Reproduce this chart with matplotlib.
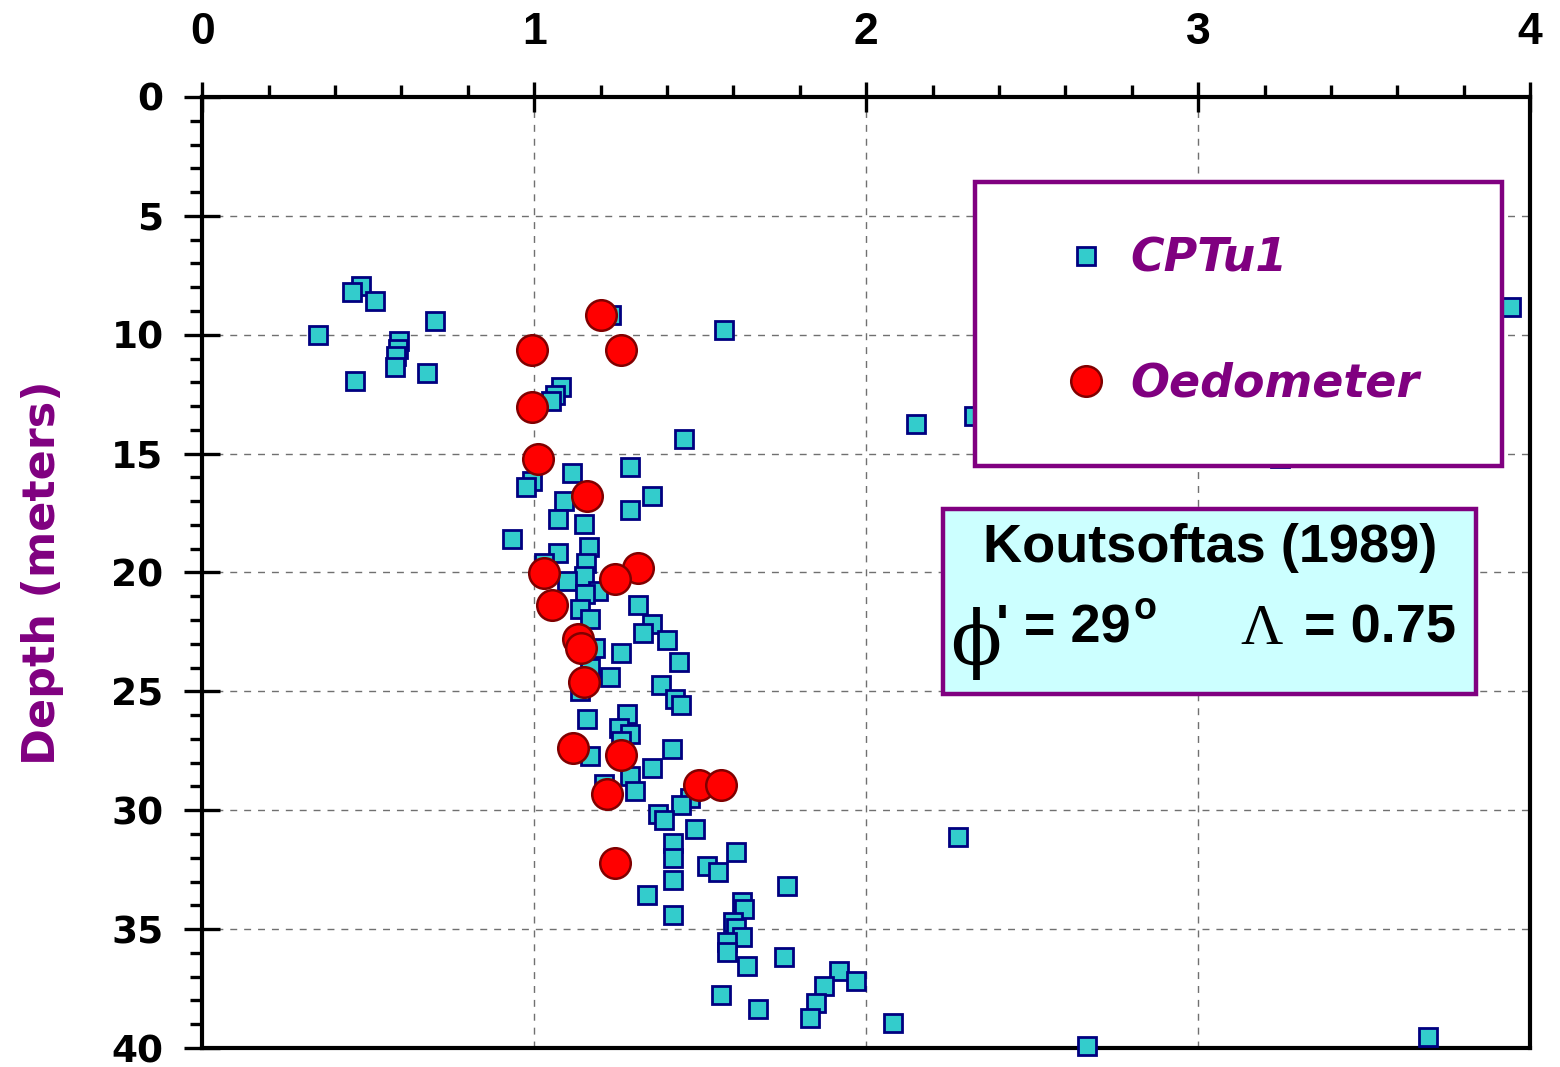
"""
Depth profile: CPTu1 estimates against oedometer results
"""

import matplotlib

matplotlib.use("Agg")
import matplotlib.pyplot as plt
from matplotlib.lines import Line2D
from matplotlib.patches import Rectangle
from matplotlib.ticker import MultipleLocator

PURPLE = "#800080"

# CPTu1 profile (value, depth in m)
cpt_value = [
    0.477, 0.452, 0.521, 0.702, 0.348, 0.591, 0.589, 0.584, 0.581, 0.676,
    0.461, 1.231, 1.572, 3.942, 1.081, 1.063, 1.049, 2.149, 2.326, 1.452,
    3.246, 1.288, 1.114, 0.994, 0.976, 1.356, 1.089, 1.288, 1.072, 1.149,
    0.934, 1.166, 1.072, 1.029, 1.156, 1.149, 1.099, 1.192, 1.152, 1.312,
    1.139, 1.167, 1.356, 1.329, 1.399, 1.184, 1.261, 1.435, 1.169, 1.227,
    1.383, 1.139, 1.425, 1.441, 1.279, 1.159, 1.254, 1.287, 1.262, 1.416,
    1.167, 1.356, 1.289, 1.209, 1.305, 1.470, 1.443, 1.374, 1.392, 1.485,
    2.276, 1.417, 1.607, 1.417, 1.520, 1.555, 1.417, 1.762, 1.339, 1.625,
    1.632, 1.417, 1.600, 1.608, 1.625, 1.580, 1.580, 1.753, 1.640, 1.917,
    1.968, 1.873, 1.563, 1.848, 1.674, 1.830, 2.080, 3.693, 2.666,
]
cpt_depth = [
    7.94, 8.22, 8.58, 9.42, 10.03, 10.28, 10.60, 10.91, 11.36, 11.60,
    11.96, 9.17, 9.79, 8.82, 12.20, 12.55, 12.80, 13.74, 13.40, 14.37,
    15.17, 15.57, 15.81, 16.16, 16.41, 16.79, 17.00, 17.38, 17.74, 17.98,
    18.58, 18.92, 19.17, 19.59, 19.62, 20.13, 20.37, 20.78, 20.92, 21.37,
    21.55, 21.95, 22.18, 22.56, 22.82, 23.19, 23.40, 23.77, 24.00, 24.38,
    24.73, 24.99, 25.31, 25.59, 25.97, 26.18, 26.53, 26.81, 27.08, 27.41,
    27.72, 28.21, 28.56, 28.91, 29.21, 29.47, 29.79, 30.17, 30.42, 30.77,
    31.13, 31.36, 31.75, 31.99, 32.34, 32.59, 32.93, 33.18, 33.56, 33.85,
    34.16, 34.41, 34.72, 34.97, 35.35, 35.56, 35.95, 36.19, 36.54, 36.75,
    37.17, 37.38, 37.77, 38.11, 38.36, 38.74, 38.96, 39.54, 39.92,
]

# oedometer tests
oed_value = [
    1.202, 0.994, 1.262, 0.994, 1.012, 1.158, 1.029, 1.314, 1.244, 1.054,
    1.132, 1.141, 1.149, 1.116, 1.261, 1.495, 1.563, 1.219, 1.244,
]
oed_depth = [
    9.17, 10.63, 10.63, 13.04, 15.21, 16.78, 20.04, 19.80, 20.26, 21.37,
    22.78, 23.19, 24.59, 27.37, 27.69, 28.95, 28.95, 29.33, 32.23,
]

x_ticks = [0, 1, 2, 3, 4]
y_ticks = [0, 5, 10, 15, 20, 25, 30, 35, 40]

square_style = dict(marker="s", ms=13.5, mfc="#33CCCC", mec="#000080", mew=2.0, ls="none")
circle_style = dict(marker="o", ms=22, mfc="#FF0000", mec="#800000", mew=1.8, ls="none")

fig = plt.figure(figsize=(15.6, 10.67), dpi=100)
ax = fig.add_axes([0.1297, 0.0178, 0.8511, 0.8913])

ax.plot(cpt_value, cpt_depth, zorder=3, clip_on=False, **square_style)
ax.plot(oed_value, oed_depth, zorder=4, clip_on=False, **circle_style)

ax.set_xlim(0, 4)
ax.set_ylim(40, 0)
ax.set_xticks(x_ticks)
ax.set_yticks(y_ticks)
ax.xaxis.set_minor_locator(MultipleLocator(0.2))
ax.yaxis.set_minor_locator(MultipleLocator(1))
ax.xaxis.tick_top()

for spine in ax.spines.values():
    spine.set_linewidth(3)

ax.tick_params(axis="x", which="major", direction="inout", length=22, width=2.4, pad=21,
               top=True, bottom=False)
ax.tick_params(axis="x", which="minor", direction="out", length=9, width=2.4,
               top=True, bottom=False)
ax.tick_params(axis="y", which="major", direction="inout", length=26, width=2.4, pad=15,
               left=True, right=False)
ax.tick_params(axis="y", which="minor", direction="out", length=9, width=2.4,
               left=True, right=False)

for label in ax.get_xticklabels():
    label.set_family("Liberation Sans")
    label.set_fontweight("bold")
    label.set_fontsize(32)
for label in ax.get_yticklabels():
    label.set_family("DejaVu Sans")
    label.set_fontweight("bold")
    label.set_fontsize(27)

ax.grid(which="major", linestyle=(0, (5, 5)), color="#707070", linewidth=1.0)
ax.set_axisbelow(True)

ax.set_ylabel("Depth (meters)", fontsize=32, fontweight="bold", color=PURPLE,
              family="DejaVu Sans", labelpad=34)

# legend panel
ax.add_patch(Rectangle((2.327, 3.57), 1.589, 11.93, facecolor="white",
                       edgecolor=PURPLE, linewidth=3.2, zorder=6))
handles = [
    Line2D([], [], **square_style),
    Line2D([], [], **circle_style),
]
leg = ax.legend(handles, ["CPTu1", "Oedometer"], loc="center",
                bbox_to_anchor=(3.13, 9.45), bbox_transform=ax.transData,
                frameon=False, handlelength=1.0, handletextpad=0.45,
                labelspacing=1.75, borderpad=0,
                prop={"family": "DejaVu Sans", "style": "italic",
                      "weight": "bold", "size": 33})
leg.set_zorder(7)
for text in leg.get_texts():
    text.set_color(PURPLE)

# parameter box
ax.add_patch(Rectangle((2.23, 17.35), 1.607, 7.78, facecolor="#CCFFFF",
                       edgecolor=PURPLE, linewidth=3.2, zorder=6))
ax.text(3.035, 18.95, "Koutsoftas (1989)", ha="center", va="center",
        fontsize=39, fontweight="bold", family="Liberation Sans", zorder=7)
ax.text(2.33, 23.0, "\u03d5", ha="center", va="center", fontsize=54,
        family="DejaVu Serif", zorder=7)
ax.text(2.39, 22.35, "' = 29", ha="left", va="center", fontsize=39,
        fontweight="bold", family="Liberation Sans", zorder=7)
ax.text(2.805, 21.55, "o", ha="left", va="center", fontsize=27,
        fontweight="bold", family="Liberation Sans", zorder=7)
ax.text(3.19, 22.4, "\u039b", ha="center", va="center", fontsize=42,
        family="Liberation Serif", zorder=7)
ax.text(3.32, 22.35, "= 0.75", ha="left", va="center", fontsize=39,
        fontweight="bold", family="Liberation Sans", zorder=7)

fig.savefig("out.png", dpi=100)
